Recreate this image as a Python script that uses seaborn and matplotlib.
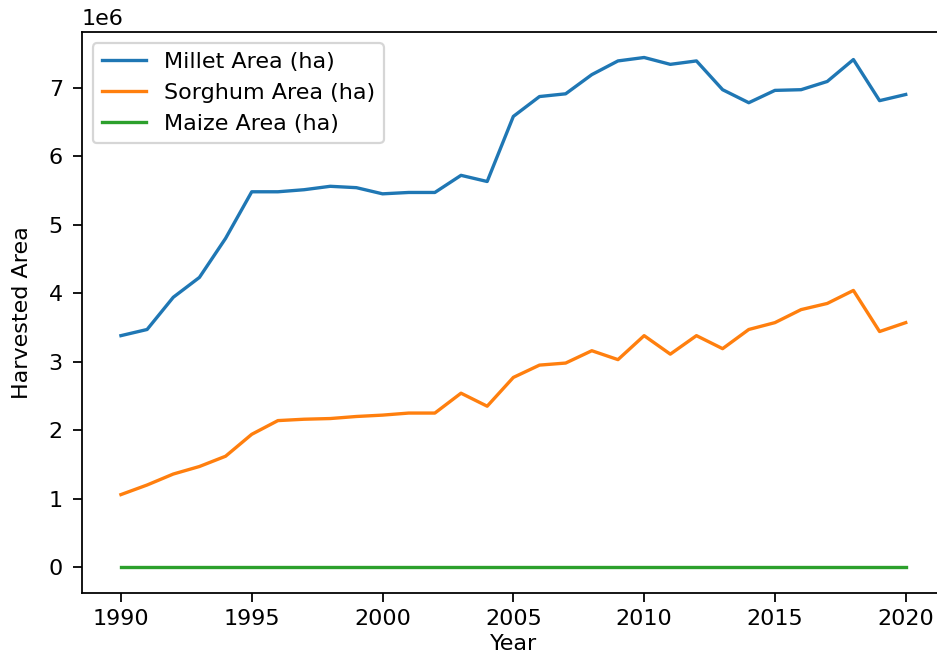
import matplotlib
matplotlib.use("Agg")
import matplotlib.pyplot as plt
import seaborn as sns
import pandas as pd

years = list(range(1990, 2021))
millet = [3.38, 3.47, 3.94, 4.23, 4.80, 5.48, 5.48, 5.51, 5.56, 5.54,
          5.45, 5.47, 5.47, 5.72, 5.63, 6.58, 6.87, 6.91, 7.19, 7.39,
          7.44, 7.34, 7.39, 6.97, 6.78, 6.96, 6.97, 7.09, 7.41, 6.81, 6.90]
sorghum = [1.06, 1.20, 1.36, 1.47, 1.62, 1.94, 2.14, 2.16, 2.17, 2.20,
           2.22, 2.25, 2.25, 2.54, 2.35, 2.77, 2.95, 2.98, 3.16, 3.03,
           3.38, 3.11, 3.38, 3.19, 3.47, 3.57, 3.76, 3.85, 4.04, 3.44, 3.57]
maize = [0.0] * len(years)
labels = ["Millet Area (ha)", "Sorghum Area (ha)", "Maize Area (ha)"]

df = pd.DataFrame({
    "Year": years,
    labels[0]: [v * 1e6 for v in millet],
    labels[1]: [v * 1e6 for v in sorghum],
    labels[2]: [v * 1e6 for v in maize],
})

fig = plt.figure(figsize=(937 / 160, 656 / 160), dpi=160)
ax = fig.add_axes([0.0872, 0.0965, 0.9213, 0.8547])
colors = ["#1f77b4", "#ff7f0e", "#2ca02c"]
for lab, c in zip(labels, colors):
    sns.lineplot(data=df, x="Year", y=lab, ax=ax, color=c, label=lab)

ax.spines["right"].set_visible(False)
ax.tick_params(axis="both", length=4)
ax.tick_params(axis="y", pad=4.5)
ax.set_xlabel("Year", labelpad=2)
ax.set_ylabel("Harvested Area", labelpad=7.5)
ax.legend(loc="upper left")
fig.savefig("out.png", dpi=160)
